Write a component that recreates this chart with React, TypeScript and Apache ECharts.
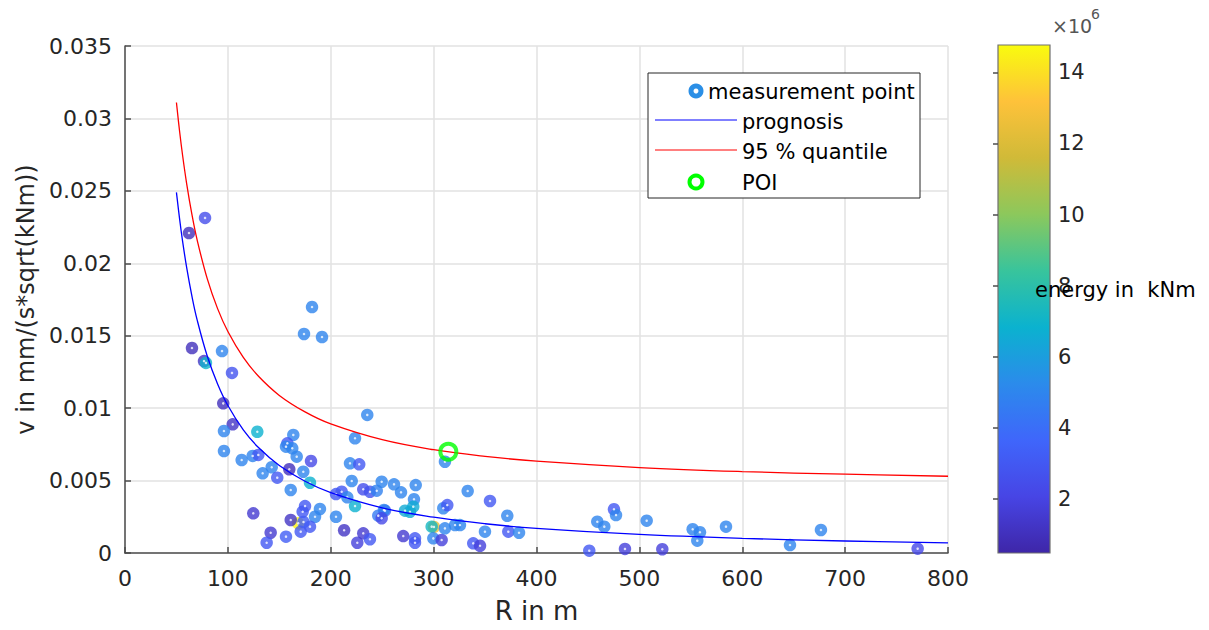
import React, { useEffect, useRef } from "react";
import * as echarts from "echarts";

// ---- measurement points: R in m, v in mm/(s*sqrt(kNm)), energy in 1e6 kNm ----
const R_MEAS = [
  168.4, 300.3,
  77.8, 62.2, 65.1, 76.8, 78.7, 94.3, 104.0, 181.8, 174.0, 191.5,
  95.5, 104.7, 96.2, 128.6, 96.2, 113.4, 124.1, 129.6, 133.8, 142.6,
  148.0, 159.7, 161.1, 163.6, 157.8, 156.5, 162.6, 166.9, 180.8, 173.3,
  179.8, 124.7, 161.1, 175.0, 172.7, 189.5, 184.7, 179.8, 170.8, 173.5,
  141.6, 156.5, 137.7, 205.1, 213.0, 225.8, 223.6, 223.6, 218.7, 227.7,
  220.4, 210.6, 205.1, 216.1, 231.6, 238.1, 244.7, 249.5, 261.5, 268.3,
  282.6, 280.9, 280.2, 272.2, 277.0, 252.7, 251.7, 246.2, 249.5, 231.6,
  238.1, 270.5, 281.9, 281.9, 298.1, 299.7, 307.8, 311.0, 309.4, 313.3,
  311.0, 320.8, 325.6, 333.1, 349.9, 354.8, 338.5, 345.1, 371.6, 372.6,
  383.0, 235.5, 459.1, 465.9, 475.3, 477.3, 507.1, 451.3, 486.0, 522.3,
  551.8, 558.9, 556.3, 584.2, 646.4, 676.5, 770.5,
];
const V_MEAS = [
  0.00205, 0.00180,
  0.02313, 0.02209, 0.01415, 0.01325, 0.01312, 0.01394, 0.01243, 0.01698, 0.01512, 0.01491,
  0.01033, 0.00888, 0.00842, 0.00837, 0.00704, 0.00642, 0.00670, 0.00677, 0.00550, 0.00592,
  0.00520, 0.00578, 0.00435, 0.00815, 0.00757, 0.00734, 0.00723, 0.00665, 0.00635, 0.00561,
  0.00485, 0.00274, 0.00228, 0.00324, 0.00285, 0.00304, 0.00250, 0.00182, 0.00147, 0.00214,
  0.00140, 0.00113, 0.00071, 0.00250, 0.00157, 0.00071, 0.00324, 0.00792, 0.00619, 0.00612,
  0.00497, 0.00423, 0.00407, 0.00384, 0.00440, 0.00423, 0.00430, 0.00492, 0.00474, 0.00419,
  0.00469, 0.00371, 0.00320, 0.00292, 0.00285, 0.00292, 0.00297, 0.00258, 0.00240, 0.00136,
  0.00095, 0.00117, 0.00101, 0.00071, 0.00182, 0.00101, 0.00090, 0.00630, 0.00309, 0.00331,
  0.00170, 0.00193, 0.00193, 0.00428, 0.00147, 0.00359, 0.00067, 0.00050, 0.00257, 0.00147,
  0.00140, 0.00953, 0.00216, 0.00182, 0.00302, 0.00262, 0.00223, 0.00016, 0.00028, 0.00026,
  0.00164, 0.00143, 0.00085, 0.00182, 0.00055, 0.00159, 0.00030,
];
const E_MEAS = [
  14.5, 12.5,
  2.5, 1.0, 1.0, 1.2, 7.0, 5.0, 2.8, 5.0, 5.0, 5.0,
  1.0, 1.2, 5.0, 6.8, 5.0, 5.0, 5.0, 3.0, 5.0, 5.0,
  3.0, 1.0, 5.0, 5.0, 3.0, 5.0, 5.0, 5.0, 2.2, 5.0,
  6.8, 1.5, 1.2, 3.0, 3.0, 5.0, 5.0, 3.0, 3.0, 3.2,
  1.5, 3.2, 3.0, 5.0, 1.2, 1.8, 6.8, 5.0, 5.0, 3.0,
  5.0, 3.0, 3.0, 5.0, 2.5, 2.8, 4.8, 5.0, 5.0, 5.0,
  5.0, 5.0, 6.5, 6.5, 6.5, 3.5, 5.0, 4.5, 2.2, 1.5,
  3.0, 1.5, 3.0, 3.0, 7.2, 5.0, 1.8, 5.0, 5.0, 3.0,
  5.0, 5.0, 5.0, 5.0, 5.0, 3.0, 3.0, 1.8, 5.0, 3.0,
  5.0, 5.0, 5.0, 5.0, 3.0, 5.0, 5.0, 3.0, 1.8, 1.8,
  5.0, 5.0, 5.0, 5.0, 5.0, 5.0, 2.2,
];

// ---- prognosis curve ----
const R_PROG = [50, 53, 56, 60, 65, 70, 80, 90, 100, 115, 130, 150, 175, 200, 250, 300, 350, 400, 500, 600, 700, 800];
const V_PROG = [0.0249, 0.0231, 0.02151, 0.01968, 0.01775, 0.01613, 0.01358, 0.01167, 0.01018, 0.0085, 0.00726, 0.00604, 0.00495, 0.00417, 0.00312, 0.00247, 0.00202, 0.0017, 0.00128, 0.00101, 0.00083, 0.0007];

// ---- 95 % quantile curve ----
const R_Q95 = [50, 53, 56, 60, 65, 70, 80, 90, 100, 115, 130, 150, 175, 200, 250, 300, 350, 400, 500, 600, 700, 800];
const V_Q95 = [0.0311, 0.02915, 0.02744, 0.02547, 0.02339, 0.02165, 0.01892, 0.01687, 0.01529, 0.0135, 0.01218, 0.01088, 0.00974, 0.00891, 0.00782, 0.00713, 0.00667, 0.00634, 0.0059, 0.00562, 0.00544, 0.0053];

// ---- point of interest ----
const POI_R = [314.3];
const POI_V = [0.00699];

// ---- axes ----
const X_RANGE = [0, 800];
const X_STEP = 100;
const Y_RANGE = [0, 0.035];
const Y_STEP = 0.005;
const E_RANGE = [0.48, 14.77];
const E_TICKS = [2, 4, 6, 8, 10, 12, 14];

const PARULA = ["#3E26A8", "#4745E5", "#3F66FB", "#2B8BEB", "#0BB2CF", "#38C49C", "#8CC85C", "#D0BA38", "#FEC23A", "#F9FB0E"];

const FONT = "DejaVu Sans";
const TXT = "#262626";

export default function App() {
  const ref = useRef<HTMLDivElement>(null);
  useEffect(() => {
    document.body.style.margin = "0";
    const chart = echarts.init(ref.current!, null, { renderer: "svg" });
    const meas = R_MEAS.map((r, i) => [r, V_MEAS[i], E_MEAS[i]]);
    const prog = R_PROG.map((r, i) => [r, V_PROG[i]]);
    const q95 = R_Q95.map((r, i) => [r, V_Q95[i]]);
    const poi = POI_R.map((r, i) => [r, POI_V[i]]);
    const gradStops = PARULA.map((c, i) => ({ offset: i / (PARULA.length - 1), color: c }));

    chart.setOption({
      animation: false,
      backgroundColor: "#ffffff",
      textStyle: { fontFamily: FONT },
      grid: [
        { left: 125, top: 46, width: 823, height: 507 },
        { left: 998, top: 45, width: 52, height: 508 },
      ],
      xAxis: [
        {
          gridIndex: 0,
          type: "value",
          min: X_RANGE[0],
          max: X_RANGE[1],
          interval: X_STEP,
          name: "R in m",
          nameLocation: "middle",
          nameGap: 45,
          nameTextStyle: { fontSize: 26, color: TXT, fontFamily: FONT },
          axisLine: { lineStyle: { color: "#4d4d4d", width: 1.5 } },
          axisTick: { inside: true, length: 6, lineStyle: { color: "#4d4d4d", width: 1.5 } },
          axisLabel: { fontSize: 22, color: TXT, margin: 14, fontFamily: FONT },
          splitLine: { show: true, lineStyle: { color: "#e2e2e2", width: 1.5 } },
        },
        { gridIndex: 1, type: "value", show: false, min: 0, max: 1 },
      ],
      yAxis: [
        {
          gridIndex: 0,
          type: "value",
          min: Y_RANGE[0],
          max: Y_RANGE[1],
          interval: Y_STEP,
          name: "v in mm/(s*sqrt(kNm))",
          nameLocation: "middle",
          nameGap: 80,
          nameRotate: 90,
          nameTextStyle: { fontSize: 24, color: TXT, fontFamily: FONT },
          axisLine: { lineStyle: { color: "#4d4d4d", width: 1.5 } },
          axisTick: { inside: true, length: 6, lineStyle: { color: "#4d4d4d", width: 1.5 } },
          axisLabel: { fontSize: 22, color: TXT, margin: 13, fontFamily: FONT },
          splitLine: { show: true, lineStyle: { color: "#e2e2e2", width: 1.5 } },
        },
        {
          gridIndex: 1,
          type: "value",
          position: "right",
          min: E_RANGE[0],
          max: E_RANGE[1],
          axisLine: { show: false },
          axisTick: { show: true, inside: true, length: 5, customValues: E_TICKS, lineStyle: { color: "#4d4d4d", width: 1.5 } },
          axisLabel: { show: true, customValues: E_TICKS, fontSize: 21, color: TXT, margin: 8, fontFamily: FONT },
          splitLine: { show: false },
        },
      ],
      visualMap: {
        show: false,
        type: "continuous",
        seriesIndex: 0,
        dimension: 2,
        min: E_RANGE[0],
        max: E_RANGE[1],
        inRange: { color: PARULA },
      },
      graphic: [
        {
          type: "rect",
          shape: { x: 998, y: 45, width: 52, height: 508 },
          style: {
            fill: new echarts.graphic.LinearGradient(0, 1, 0, 0, gradStops),
            stroke: "#707070",
            lineWidth: 1.2,
          },
          z: 0,
          silent: true,
        },
        { type: "text", x: 1052, y: 16, style: { text: "×10", fontSize: 19, fontFamily: FONT, fill: "#555" } },
        { type: "text", x: 1091, y: 7, style: { text: "6", fontSize: 14, fontFamily: FONT, fill: "#555" } },
        {
          type: "text",
          x: 1035,
          y: 290,
          z: 10,
          style: { text: "energy in  kNm", fontSize: 21, fontFamily: FONT, fill: "#000", verticalAlign: "middle" },
        },
        // legend box
        {
          type: "rect",
          z: 20,
          shape: { x: 648, y: 73, width: 272, height: 125 },
          style: { fill: "#fff", stroke: "#262626", lineWidth: 1 },
        },
        { type: "circle", z: 21, shape: { cx: 696, cy: 91, r: 5 }, style: { fill: "none", stroke: "#2B8FE6", lineWidth: 5 } },
        { type: "text", z: 21, x: 708, y: 92, style: { text: "measurement point", fontSize: 21, fontFamily: FONT, fill: "#000", verticalAlign: "middle" } },
        { type: "line", z: 21, shape: { x1: 655, y1: 120, x2: 737, y2: 120 }, style: { stroke: "#0000ff", lineWidth: 1 } },
        { type: "text", z: 21, x: 742, y: 122, style: { text: "prognosis", fontSize: 21, fontFamily: FONT, fill: "#000", verticalAlign: "middle" } },
        { type: "line", z: 21, shape: { x1: 655, y1: 150, x2: 737, y2: 150 }, style: { stroke: "#ff0000", lineWidth: 1 } },
        { type: "text", z: 21, x: 742, y: 152, style: { text: "95 % quantile", fontSize: 21, fontFamily: FONT, fill: "#000", verticalAlign: "middle" } },
        { type: "circle", z: 21, shape: { cx: 696, cy: 182, r: 6.5 }, style: { fill: "none", stroke: "#00ff00", lineWidth: 4 } },
        { type: "text", z: 21, x: 742, y: 183, style: { text: "POI", fontSize: 21, fontFamily: FONT, fill: "#000", verticalAlign: "middle" } },
      ],
      series: [
        {
          name: "measurement point",
          type: "scatter",
          xAxisIndex: 0,
          yAxisIndex: 0,
          data: meas,
          symbol: "circle",
          symbolSize: 12.5,
          z: 3,
        },
        {
          name: "centers",
          type: "scatter",
          xAxisIndex: 0,
          yAxisIndex: 0,
          data: meas.map((d) => [d[0], d[1]]),
          symbol: "circle",
          symbolSize: 2.5,
          itemStyle: { color: "#ffffff" },
          silent: true,
          z: 4,
        },
        {
          name: "prognosis",
          type: "line",
          data: prog,
          showSymbol: false,
          smooth: 0.4,
          lineStyle: { color: "#0000ff", width: 1.3 },
          z: 5,
        },
        {
          name: "95 % quantile",
          type: "line",
          data: q95,
          showSymbol: false,
          smooth: 0.4,
          lineStyle: { color: "#ff0000", width: 1.3 },
          z: 5,
        },
        {
          name: "POI",
          type: "scatter",
          data: poi,
          symbol: "circle",
          symbolSize: 16,
          itemStyle: { color: "rgba(255,255,255,0)", borderColor: "#00ff00", borderWidth: 4 },
          z: 6,
        },
      ],
    });
    return () => chart.dispose();
  }, []);
  return <div ref={ref} style={{ width: 1209, height: 630 }} />;
}
